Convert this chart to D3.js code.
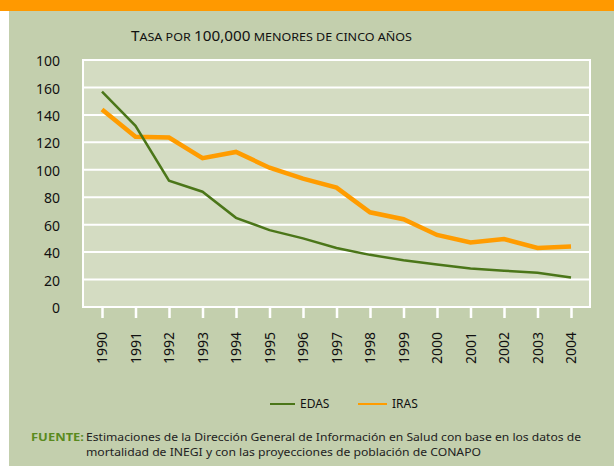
<!DOCTYPE html>
<html><head><meta charset="utf-8">
<script src="https://cdn.jsdelivr.net/npm/d3@7"></script>
<style>body{margin:0;background:#fff}svg{display:block}</style>
</head><body>
<script>
const years = ["1990","1991","1992","1993","1994","1995","1996","1997","1998","1999","2000","2001","2002","2003","2004"];
const edas = [157,132,92,84,65,56,50,43,38,34,31,28,26.5,25,21.5];
const iras = [144,124,123.5,108.5,113,101.5,93.5,87,69,64,52.5,47,49.5,43,44];
const yTicks = [0,20,40,60,80,100,120,140,160,180];
const yTickLabels = ["0","20","40","60","80","100","120","140","160","100"];
const seriesNames = ["EDAS","IRAS"];
const colors = {EDAS:"#4b7619", IRAS:"#ff9c00"};

const W=614,H=466;
const svg=d3.select("body").append("svg").attr("width",W).attr("height",H);
const font="'Noto Sans', 'Open Sans', sans-serif";
svg.append("rect").attr("x",9).attr("y",0).attr("width",W-9).attr("height",H).attr("fill","#c3cfad");
svg.append("rect").attr("x",0).attr("y",0).attr("width",W).attr("height",11).attr("fill","#ff9900");

const L=83,R=590,T=60,B=307;
svg.append("rect").attr("x",L).attr("y",T).attr("width",R-L).attr("height",B-T).attr("fill","#d4dcc2");

const x=d3.scalePoint().domain(years).range([102,571]);
const y=d3.scaleLinear().domain([0,180]).range([B,T]);

// grid
svg.append("g").selectAll("line").data(yTicks).join("line")
  .attr("x1",L).attr("x2",R).attr("y1",d=>y(d)).attr("y2",d=>y(d))
  .attr("stroke","#fff").attr("stroke-width",2);
svg.append("line").attr("x1",L).attr("x2",L).attr("y1",T-1).attr("y2",B+1).attr("stroke","#fff").attr("stroke-width",2);
svg.append("line").attr("x1",R).attr("x2",R).attr("y1",T-1).attr("y2",B+1).attr("stroke","#fff").attr("stroke-width",2);

// y axis labels
const ya=d3.axisLeft(y).tickValues(yTicks).tickFormat((d,i)=>yTickLabels[i]).tickSize(0).tickPadding(0);
const gy=svg.append("g").attr("transform",`translate(60,0)`).call(ya);
gy.select(".domain").remove();
gy.selectAll("text").attr("font-family",font).attr("font-size",14).attr("fill","#111").attr("dy","0.4em");

// x axis
const xa=d3.axisBottom(x).tickSize(11).tickPadding(0);
const gx=svg.append("g").attr("transform",`translate(0,${B})`).call(xa);
gx.select(".domain").remove();
gx.selectAll(".tick line").attr("stroke","#fff").attr("stroke-width",2.5);
gx.selectAll("text").attr("font-family",font).attr("font-size",14).attr("fill","#111")
  .attr("text-anchor","end").attr("transform","rotate(-90)")
  .attr("x",-25).attr("y",0).attr("dy","0.35em");

// lines
const line=d3.line().x((d,i)=>x(years[i])).y(d=>y(d));
svg.append("path").datum(iras).attr("d",line).attr("fill","none").attr("stroke",colors.IRAS).attr("stroke-width",4.5);
svg.append("path").datum(edas).attr("d",line).attr("fill","none").attr("stroke",colors.EDAS).attr("stroke-width",2.5);

// title (small caps manual)
const t=svg.append("text").attr("x",131).attr("y",41).attr("font-family",font).attr("fill","#111")
  .attr("textLength",281).attr("lengthAdjust","spacingAndGlyphs");
[["T",14],["ASA POR ",11.5],["100,000",14],[" MENORES DE CINCO AÑOS",11.5]].forEach(([s,fs])=>t.append("tspan").attr("font-size",fs).text(s));

// legend
const leg=[{n:"EDAS",x1:270,x2:295,tx:300},{n:"IRAS",x1:358,x2:387,tx:392}];
leg.forEach(l=>{
  svg.append("line").attr("x1",l.x1).attr("x2",l.x2).attr("y1",404).attr("y2",404).attr("stroke",colors[l.n]).attr("stroke-width",2);
  svg.append("text").attr("x",l.tx).attr("y",404).attr("dy","0.35em").attr("font-family",font).attr("font-size",12).attr("fill","#111").text(l.n);
});

// source
svg.append("text").attr("x",31).attr("y",441).attr("font-family",font).attr("font-size",11).attr("font-weight","bold").attr("fill","#5a8a1e").attr("textLength",53).attr("lengthAdjust","spacingAndGlyphs").text("FUENTE:");
svg.append("text").attr("x",86).attr("y",441).attr("font-family",font).attr("font-size",11).attr("fill","#222").attr("textLength",495).attr("lengthAdjust","spacingAndGlyphs").text("Estimaciones de la Dirección General de Información en Salud con base en los datos de");
svg.append("text").attr("x",86).attr("y",456).attr("font-family",font).attr("font-size",11).attr("fill","#222").attr("textLength",395).attr("lengthAdjust","spacingAndGlyphs").text("mortalidad de INEGI y con las proyecciones de población de CONAPO");
</script>
</body></html>
